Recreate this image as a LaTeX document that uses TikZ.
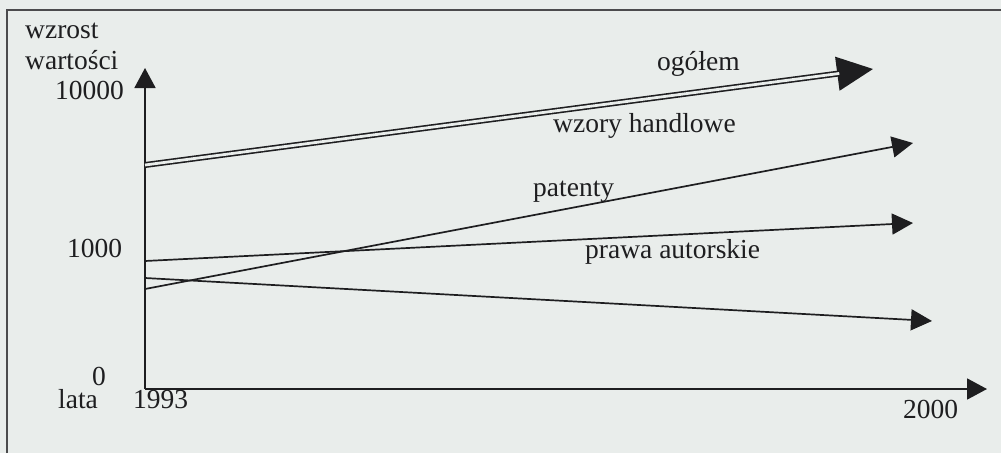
\documentclass[tikz,border=0pt]{standalone}
\usepackage{fontspec}
\setmainfont{Liberation Serif}
\usetikzlibrary{arrows.meta}
\definecolor{bgc}{RGB}{233,237,235}
\definecolor{ink}{RGB}{30,30,32}
\tikzset{
  lbl/.style={anchor=base west, inner sep=0pt, text=ink, font=\fontsize{27.5}{32}\selectfont},
  axis/.style={draw=ink, line width=1.8pt, -{Triangle[length=20pt,width=21pt]}},
  trend/.style={draw=ink, line width=1.7pt, -{Triangle[length=21pt,width=21pt]}},
  bigtrend/.style={draw=ink, line width=1.6pt, -{Triangle[length=36pt,width=34pt]}},
  dbl/.style={draw=ink, line width=1.6pt, double=bgc, double distance=2.8pt, shorten >=34pt},
  frame/.style={draw=ink!80, line width=1.5pt}
}
\begin{document}
\begin{tikzpicture}[x=1pt,y=-1pt]
\fill[bgc] (0,0) rectangle (1001,453);
\useasboundingbox (0,0) rectangle (1001,453);
% frame
\coordinate (fB) at (7,453);
\coordinate (fC) at (7,10);
\coordinate (fR) at (1001,10);
\draw[frame] (fB) -- (fC) -- (fR);
% axes
\coordinate (O) at (145,389);
\coordinate (ytip) at (145,68);
\coordinate (xtip) at (987,389);
\draw[axis] (O) -- (ytip);
\draw[axis] (O) -- (xtip);
% trend lines
\coordinate (oS) at (145,165);
\coordinate (oE) at (873,69);
\draw[bigtrend] (oS) -- (oE);
\draw[dbl] (oS) -- (oE);
\coordinate (aS) at (145,289);
\coordinate (aE) at (913,143);
\draw[trend] (aS) -- (aE);
\coordinate (bS) at (145,261);
\coordinate (bE) at (913,223);
\draw[trend] (bS) -- (bE);
\coordinate (cS) at (145,278);
\coordinate (cE) at (932,321);
\draw[trend] (cS) -- (cE);
% labels
\node[lbl] (t1) at (25,38) {wzrost};
\node[lbl] (t2) at (25,69) {wartości};
\node[lbl] (t3) at (55,99) {10000};
\node[lbl] (t4) at (67,257) {1000};
\node[lbl] (t5) at (92,385) {0};
\node[lbl] (t6) at (58,408) {lata};
\node[lbl] (t7) at (133,408) {1993};
\node[lbl] (t8) at (903,418) {2000};
\node[lbl] (l1) at (657,70) {ogółem};
\node[lbl] (l2) at (553,132) {wzory handlowe};
\node[lbl] (l3) at (533,196) {patenty};
\node[lbl] (l4) at (585,258) {prawa autorskie};
\end{tikzpicture}
\end{document}
